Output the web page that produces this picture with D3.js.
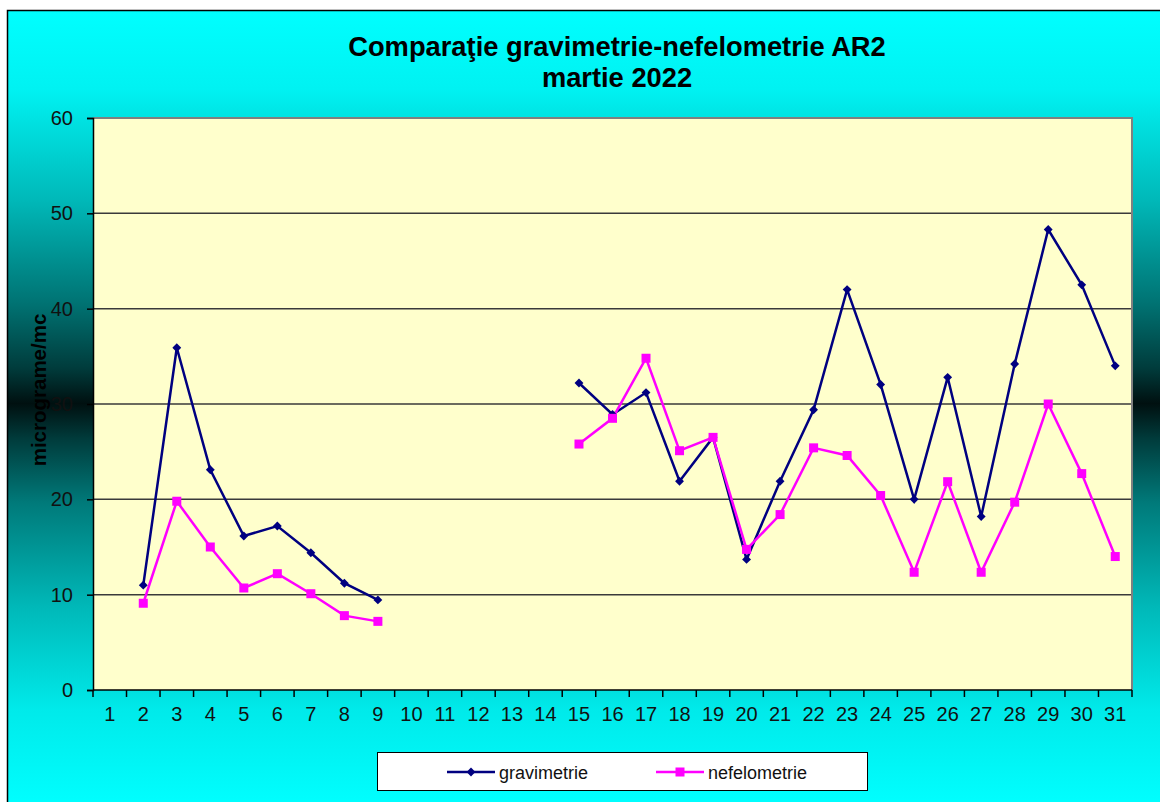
<!DOCTYPE html>
<html>
<head>
<meta charset="utf-8">
<script src="https://cdn.jsdelivr.net/npm/d3@7/dist/d3.min.js"></script>
<style>
  html, body { margin: 0; padding: 0; background: #ffffff; }
  svg { display: block; font-family: Arial, "Liberation Sans", sans-serif; }
</style>
</head>
<body>
<svg id="chart" width="1160" height="802"></svg>
<script>
const days = ["1","2","3","4","5","6","7","8","9","10","11","12","13","14","15","16","17","18","19","20","21","22","23","24","25","26","27","28","29","30","31"];
const gravimetrie = [null, 11.0, 35.9, 23.1, 16.15, 17.2, 14.4, 11.2, 9.45, null, null, null, null, null,
  32.2, 28.9, 31.2, 21.9, 26.5, 13.7, 21.9, 29.4, 42.0, 32.05, 20.0, 32.8, 18.2, 34.2, 48.3, 42.5, 34.0];
const nefelometrie = [null, 9.1, 19.8, 15.0, 10.7, 12.2, 10.1, 7.8, 7.2, null, null, null, null, null,
  25.8, 28.5, 34.8, 25.1, 26.5, 14.75, 18.4, 25.4, 24.6, 20.4, 12.35, 21.85, 12.35, 19.7, 30.0, 22.7, 14.0];
const yTicks = [0, 10, 20, 30, 40, 50, 60];
const titleLines = ["Comparaţie gravimetrie-nefelometrie AR2", "martie 2022"];
const yTitle = "micrograme/mc";
const seriesNames = ["gravimetrie", "nefelometrie"];

const svg = d3.select("#chart");
const defs = svg.append("defs");
const grad = defs.append("linearGradient").attr("id", "bg").attr("gradientUnits", "userSpaceOnUse")
  .attr("x1", 0).attr("y1", 10).attr("x2", 0).attr("y2", 805);
[[0, "#00ffff"], [0.1, "#00f2f2"], [0.24, "#00b8b8"], [0.37, "#007272"], [0.45, "#003c3c"],
 [0.495, "#001010"], [0.54, "#003c3c"], [0.62, "#007a7a"], [0.75, "#00b8b8"], [0.88, "#00eaea"], [1, "#00ffff"]]
  .forEach(([o, c]) => grad.append("stop").attr("offset", o).attr("stop-color", c));

// outer chart area
svg.append("rect").attr("x", 7.5).attr("y", 10.5).attr("width", 1200).attr("height", 850)
  .attr("fill", "url(#bg)").attr("stroke", "#000").attr("stroke-width", 1.5);

const L = 93, R = 1132, T = 118, B = 690;
const x = d3.scaleBand().domain(days).range([L, R]).padding(0);
const y = d3.scaleLinear().domain([0, 60]).range([B, T]);
const cx = d => x(d) + x.bandwidth() / 2;
const FONT = "Arial, 'Liberation Sans', sans-serif";

// plot area
svg.append("rect").attr("x", L).attr("y", T).attr("width", R - L).attr("height", B - T).attr("fill", "#ffffcc");

// gridlines
svg.append("g").selectAll("line").data(yTicks.filter(v => v > 0 && v < 60)).join("line")
  .attr("x1", L).attr("x2", R).attr("y1", d => y(d)).attr("y2", d => y(d))
  .attr("stroke", "#3a3a3a").attr("stroke-width", 1.5);

// top and right border gray
svg.append("path").attr("d", `M${L},${T}H${R}V${B}`).attr("fill", "none")
  .attr("stroke", "#808080").attr("stroke-width", 2);

// y axis
const yAxis = svg.append("g").attr("transform", `translate(${L},0)`)
  .call(d3.axisLeft(y).tickValues(yTicks).tickSize(6).tickPadding(14).tickFormat(d3.format("d")));
yAxis.select(".domain").attr("stroke", "#000").attr("stroke-width", 1.5);
yAxis.selectAll(".tick line").attr("stroke", "#000").attr("stroke-width", 1.5);
yAxis.selectAll("text").attr("font-size", 20).attr("fill", "#111").attr("font-family", FONT);

// x axis
const xAxis = svg.append("g").attr("transform", `translate(0,${B})`)
  .call(d3.axisBottom(x).tickSize(0).tickPadding(17));
xAxis.select(".domain").remove();
xAxis.selectAll("text").attr("font-size", 20).attr("fill", "#111").attr("font-family", FONT);
svg.append("line").attr("x1", L).attr("x2", R).attr("y1", B).attr("y2", B).attr("stroke", "#000").attr("stroke-width", 1.5);
const bounds = days.map(d => x(d)).concat([x(days[days.length - 1]) + x.bandwidth()]);
svg.append("g").selectAll("line").data(bounds).join("line")
  .attr("x1", d => d).attr("x2", d => d).attr("y1", B).attr("y2", B + 7)
  .attr("stroke", "#000").attr("stroke-width", 1.5);

// title
svg.append("text").attr("text-anchor", "middle").attr("font-weight", "bold").attr("font-size", 27.3)
  .attr("fill", "#000").attr("font-family", FONT)
  .selectAll("tspan").data(titleLines).join("tspan")
  .attr("x", 617).attr("y", (d, i) => 56 + i * 31).text(d => d);

// y title
svg.append("text").attr("transform", `translate(46,390) rotate(-90)`)
  .attr("text-anchor", "middle").attr("font-weight", "bold").attr("font-size", 20.5).attr("fill", "#000")
  .attr("font-family", FONT).text(yTitle);

// series
const line = d3.line().defined(d => d.v !== null).x(d => cx(d.day)).y(d => y(d.v));
const mk = arr => days.map((day, i) => ({ day, v: arr[i] }));
const gData = mk(gravimetrie), nData = mk(nefelometrie);

svg.append("path").datum(gData).attr("d", line).attr("fill", "none").attr("stroke", "#000080").attr("stroke-width", 2.5);
svg.append("path").datum(nData).attr("d", line).attr("fill", "none").attr("stroke", "#ff00ff").attr("stroke-width", 2.5);

const diamond = d3.symbol().type(d3.symbolDiamond2).size(50);
svg.append("g").selectAll("path").data(gData.filter(d => d.v !== null)).join("path")
  .attr("d", diamond).attr("transform", d => `translate(${cx(d.day)},${y(d.v)})`).attr("fill", "#000080");
svg.append("g").selectAll("rect").data(nData.filter(d => d.v !== null)).join("rect")
  .attr("x", d => cx(d.day) - 4.5).attr("y", d => y(d.v) - 4.5).attr("width", 9).attr("height", 9).attr("fill", "#ff00ff");

// legend
const lg = svg.append("g");
lg.append("rect").attr("x", 377.5).attr("y", 752.5).attr("width", 490).attr("height", 38)
  .attr("fill", "#fff").attr("stroke", "#000").attr("stroke-width", 1);
const legendItems = [
  { name: seriesNames[0], color: "#000080", x0: 447, type: "d" },
  { name: seriesNames[1], color: "#ff00ff", x0: 656, type: "s" }
];
legendItems.forEach(it => {
  lg.append("line").attr("x1", it.x0).attr("x2", it.x0 + 48).attr("y1", 772).attr("y2", 772)
    .attr("stroke", it.color).attr("stroke-width", 2.5);
  if (it.type === "d") {
    lg.append("path").attr("d", diamond).attr("transform", `translate(${it.x0 + 24},772)`).attr("fill", it.color);
  } else {
    lg.append("rect").attr("x", it.x0 + 24 - 4.5).attr("y", 767.5).attr("width", 9).attr("height", 9).attr("fill", it.color);
  }
  lg.append("text").attr("x", it.x0 + 52).attr("y", 778.5).attr("font-size", 18).attr("fill", "#111")
    .attr("font-family", FONT).text(it.name);
});
</script>
</body>
</html>
